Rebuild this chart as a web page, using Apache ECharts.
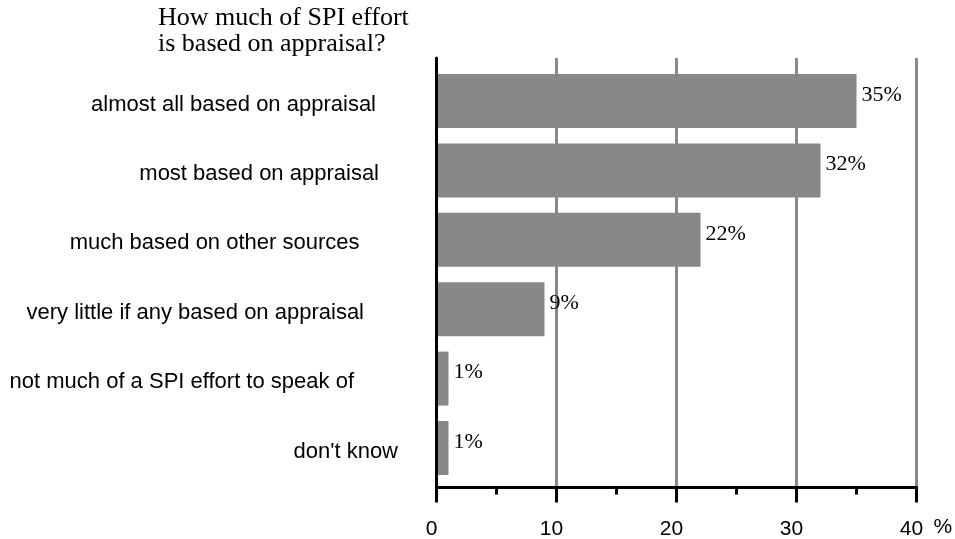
<!DOCTYPE html>
<html>
<head>
<meta charset="utf-8">
<script src="https://cdn.jsdelivr.net/npm/echarts@6/dist/echarts.min.js"></script>
<style>
  html, body { margin: 0; padding: 0; background: #fff; }
  #chart { width: 955px; height: 539px; }
</style>
</head>
<body>
<div id="chart"></div>
<script>
const categories = [
  "almost all based on appraisal",
  "most based on appraisal",
  "much based on other sources",
  "very little if any based on appraisal",
  "not much of a SPI effort to speak of",
  "don't know"
];
const percentValues = [35, 32, 22, 9, 1, 1];
const xTicks = [0, 10, 20, 30, 40];
const titleText = "How much of SPI effort\nis based on appraisal?";
const unitLabel = "%";

// label right-edge offsets (style only)
const labelRightPad = [60.5, 57.5, 77, 72.5, 82.5, 38.5];

const chart = echarts.init(document.getElementById('chart'), null, { renderer: 'canvas' });

const sans = 'Liberation Sans, Arial, sans-serif';
const serif = 'Liberation Serif, Times New Roman, serif';

const xMin = xTicks[0];
const xMax = xTicks[xTicks.length - 1];

const option = {
  animation: false,
  backgroundColor: '#ffffff',
  title: {
    text: titleText,
    left: 153,
    top: 0,
    textStyle: {
      fontFamily: serif,
      fontSize: 26,
      fontWeight: 'normal',
      color: '#000',
      lineHeight: 26
    }
  },
  grid: [
    // bars
    { left: 436.5, right: 38.5, top: 66.3, height: 416.4, outerBoundsMode: 'none' },
    // frame: axis lines, gridlines, ticks
    { left: 436.5, right: 38.5, top: 58, bottom: 51.5, outerBoundsMode: 'none' },
    // category labels (slightly lower than bar centres)
    { left: 436.5, right: 38.5, top: 69.8, height: 416.4, outerBoundsMode: 'none' }
  ],
  xAxis: [
    { gridIndex: 0, type: 'value', min: xMin, max: xMax, interval: 10, show: false },
    {
      gridIndex: 1, type: 'value', min: xMin, max: xMax, interval: 10, z: 0,
      name: unitLabel,
      nameLocation: 'end',
      nameGap: 17,
      nameTextStyle: {
        fontFamily: sans, fontSize: 21, color: '#000',
        align: 'left', verticalAlign: 'top',
        lineHeight: 80
      },
      axisLine: { show: true, lineStyle: { color: '#000', width: 3 } },
      axisTick: { show: true, inside: false, length: 15, lineStyle: { color: '#000', width: 3 } },
      minorTick: { show: true, splitNumber: 2, length: 7, lineStyle: { color: '#000', width: 3 } },
      splitLine: { show: true, lineStyle: { color: '#888888', width: 3 } },
      axisLabel: {
        show: true, margin: 31,
        fontFamily: sans, fontSize: 21, color: '#000',
        padding: [0, 10, 0, 0],
        formatter: function (v) { return String(v); }
      }
    },
    { gridIndex: 2, type: 'value', min: xMin, max: xMax, interval: 10, show: false }
  ],
  yAxis: [
    {
      gridIndex: 0, type: 'category', inverse: true, data: categories,
      axisLine: { show: false }, axisTick: { show: false },
      splitLine: { show: false }, axisLabel: { show: false }
    },
    {
      gridIndex: 1, type: 'value', min: 0, max: 1, z: 3,
      axisLine: { show: true, onZero: false, lineStyle: { color: '#000', width: 3 } },
      axisTick: { show: false },
      axisLabel: { show: false },
      splitLine: { show: false }
    },
    {
      gridIndex: 2, type: 'category', inverse: true,
      data: categories.map(function (c, i) {
        return { value: c, textStyle: { padding: [0, labelRightPad[i], 0, 0] } };
      }),
      axisLine: { show: false },
      axisTick: { show: false },
      splitLine: { show: false },
      axisLabel: {
        show: true, margin: 0, interval: 0,
        fontFamily: sans, fontSize: 22, color: '#000', align: 'right'
      }
    }
  ],
  series: [
    {
      type: 'bar',
      xAxisIndex: 0,
      yAxisIndex: 0,
      data: percentValues,
      barWidth: 54,
      z: 2,
      itemStyle: { color: '#888888' },
      label: {
        show: true,
        position: 'right',
        distance: 5,
        offset: [0, -6],
        formatter: '{c}%',
        fontFamily: serif,
        fontSize: 22,
        color: '#000'
      }
    }
  ]
};

chart.setOption(option);
</script>
</body>
</html>
